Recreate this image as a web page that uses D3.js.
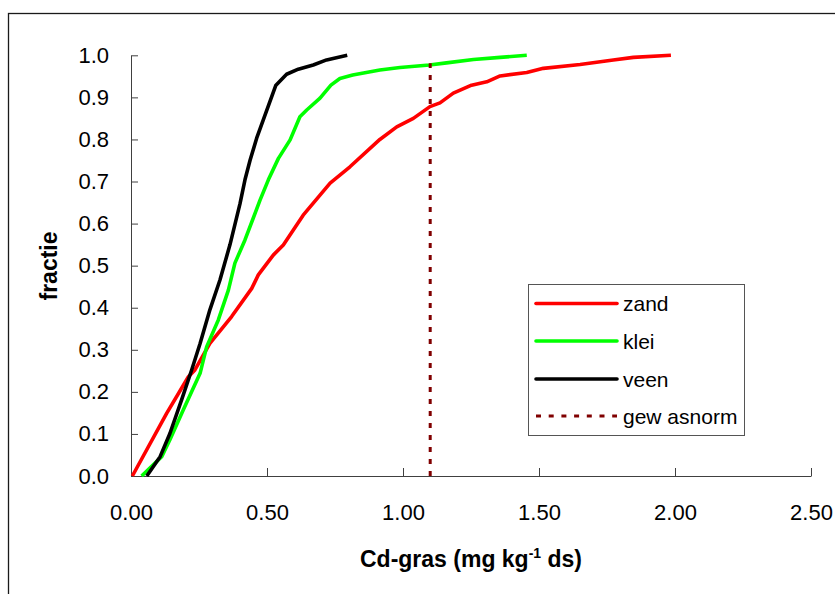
<!DOCTYPE html>
<html>
<head>
<meta charset="utf-8">
<script src="https://cdn.jsdelivr.net/npm/d3@7"></script>
<style>
  html, body { margin: 0; padding: 0; background: #fff; }
  svg { display: block; font-family: Arial, "Liberation Sans", sans-serif; }
</style>
</head>
<body>
<svg id="chart" width="835" height="594"></svg>
<script>
// ---- data ----
const zandX = [0.005, 0.131, 0.211, 0.235, 0.29, 0.37, 0.444, 0.468, 0.523, 0.56, 0.633, 0.732, 0.805, 0.915, 0.977, 1.038, 1.099, 1.136, 1.185, 1.252, 1.308, 1.357, 1.455, 1.516, 1.651, 1.773, 1.847, 1.985];
const zandY = [0.0, 0.149, 0.236, 0.252, 0.315, 0.379, 0.446, 0.478, 0.525, 0.549, 0.620, 0.696, 0.735, 0.800, 0.830, 0.850, 0.878, 0.887, 0.910, 0.929, 0.937, 0.951, 0.959, 0.969, 0.978, 0.989, 0.995, 1.0];
const kleiX = [0.039, 0.113, 0.143, 0.192, 0.254, 0.278, 0.321, 0.358, 0.382, 0.419, 0.474, 0.505, 0.542, 0.585, 0.621, 0.646, 0.695, 0.735, 0.768, 0.815, 0.915, 0.989, 1.097, 1.16, 1.259, 1.357, 1.455];
const kleiY = [0.0, 0.046, 0.086, 0.157, 0.244, 0.307, 0.371, 0.442, 0.506, 0.561, 0.655, 0.704, 0.755, 0.799, 0.854, 0.870, 0.898, 0.929, 0.945, 0.953, 0.965, 0.971, 0.977, 0.982, 0.990, 0.995, 1.0];
const veenX = [0.058, 0.107, 0.143, 0.186, 0.223, 0.254, 0.29, 0.327, 0.364, 0.401, 0.419, 0.438, 0.462, 0.486, 0.532, 0.572, 0.615, 0.670, 0.719, 0.795];
const veenY = [0.0, 0.046, 0.101, 0.181, 0.252, 0.315, 0.395, 0.466, 0.55, 0.648, 0.704, 0.751, 0.803, 0.846, 0.928, 0.955, 0.967, 0.977, 0.989, 1.0];
const normX = [1.10, 1.10];
const normY = [0.0, 0.981];
const xTicks = [0, 0.5, 1.0, 1.5, 2.0, 2.5];
const yTicks = [0, 0.1, 0.2, 0.3, 0.4, 0.5, 0.6, 0.7, 0.8, 0.9, 1.0];
const seriesNames = ["zand", "klei", "veen", "gew asnorm"];
const seriesColors = ["#ff0000", "#00ff00", "#000000", "#800000"];

// ---- setup ----
const svg = d3.select("#chart");
const x = d3.scaleLinear().domain([0, 2.5]).range([131, 811]);
const y = d3.scaleLinear().domain([0, 1]).range([476, 55.3]);

// outer chart frame (extends past right/bottom edges)
svg.append("rect")
  .attr("x", 8.5).attr("y", 13.5)
  .attr("width", 900).attr("height", 700)
  .attr("fill", "none").attr("stroke", "#1a1a1a").attr("stroke-width", 1.3);

// axes
const axisColor = "#404040";
const yAxis = svg.append("g")
  .attr("transform", "translate(131,0)")
  .call(d3.axisLeft(y).tickValues(yTicks).tickFormat(d3.format(".1f"))
    .tickSizeInner(-7).tickSizeOuter(0).tickPadding(22));
const xAxis = svg.append("g")
  .attr("transform", "translate(0,476)")
  .call(d3.axisBottom(x).tickValues(xTicks).tickFormat(d3.format(".2f"))
    .tickSizeInner(-8).tickSizeOuter(0).tickPadding(28));
[xAxis, yAxis].forEach(g => {
  g.selectAll("path, line").attr("stroke", axisColor).attr("stroke-width", 1);
  g.selectAll("text").attr("font-size", 22).attr("fill", "#000")
    .attr("font-family", "Arial, 'Liberation Sans', sans-serif");
});

// series
const line = d3.line().x(d => x(d[0])).y(d => y(d[1]));
const series = [
  { xs: zandX, ys: zandY, color: seriesColors[0] },
  { xs: kleiX, ys: kleiY, color: seriesColors[1] },
  { xs: veenX, ys: veenY, color: seriesColors[2] }
];
series.forEach(s => {
  svg.append("path")
    .datum(s.xs.map((v, i) => [v, s.ys[i]]))
    .attr("d", line)
    .attr("fill", "none")
    .attr("stroke", s.color)
    .attr("stroke-width", 3.6)
    .attr("stroke-linejoin", "round");
});

// norm line
svg.append("path")
  .datum(normX.map((v, i) => [v, normY[i]]))
  .attr("d", line)
  .attr("fill", "none")
  .attr("stroke", seriesColors[3])
  .attr("stroke-width", 3)
  .attr("stroke-dasharray", "5,7");

// axis titles
svg.append("text")
  .attr("transform", "translate(56.5,266) rotate(-90)")
  .attr("text-anchor", "middle")
  .attr("font-size", 23).attr("font-weight", "bold")
  .text("fractie");

const xt = svg.append("text")
  .attr("x", 471).attr("y", 567)
  .attr("text-anchor", "middle")
  .attr("font-size", 23).attr("font-weight", "bold");
xt.append("tspan").text("Cd-gras (mg kg");
xt.append("tspan").attr("font-size", 14).attr("dy", -9).text("-1");
xt.append("tspan").attr("dy", 9).text(" ds)");

// legend
const lg = svg.append("g");
lg.append("rect")
  .attr("x", 528.5).attr("y", 284.5).attr("width", 216).attr("height", 151)
  .attr("fill", "#fff").attr("stroke", "#555").attr("stroke-width", 1);
const rowY = [303.5, 341, 379, 416];
seriesNames.forEach((name, i) => {
  const ln = lg.append("line")
    .attr("x1", 536).attr("x2", 617)
    .attr("y1", rowY[i]).attr("y2", rowY[i])
    .attr("stroke", seriesColors[i]).attr("stroke-width", 3.6)
    .attr("stroke-linecap", i < 3 ? "round" : "butt");
  if (i === 3) ln.attr("stroke-dasharray", "5,7.7").attr("stroke-width", 3);
  lg.append("text")
    .attr("x", 623).attr("y", rowY[i]).attr("dy", "0.36em")
    .attr("font-size", 21)
    .text(name);
});
</script>
</body>
</html>
